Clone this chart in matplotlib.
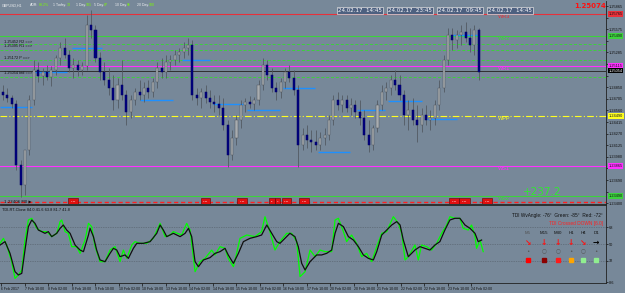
import matplotlib
matplotlib.use("Agg")
import matplotlib.pyplot as plt
from matplotlib.patches import Rectangle
import numpy as np

# ---------------- data ----------------
# 3-hour candles of GBPUSD (H1 chart, condensed), hour index from first label
opens = [1.2479,1.2475,1.2472,1.2464,1.2388,1.2363,1.2407,1.2469,1.2507,1.2499,1.2504,1.2498,1.2507,1.2522,1.2534,1.2525,1.2509,1.2513,1.2507,1.2512,
         1.2563,1.2557,1.2522,1.2504,1.2494,1.2484,1.2469,1.2488,1.2475,1.2454,1.2469,1.2479,1.2475,1.2484,1.2479,1.2492,1.2509,1.2504,1.2517,1.2519,
         1.2525,1.2529,1.2534,1.2538,1.2475,1.2472,1.2479,1.2472,1.2467,1.2464,1.2459,1.2438,1.2400,1.2422,1.2444,1.2463,1.2467,1.2464,1.2469,1.2488,
         1.2513,1.2500,1.2484,1.2479,1.2492,1.2504,1.2497,1.2482,1.2413,1.2425,1.2419,1.2417,1.2413,1.2422,1.2425,1.2444,1.2469,1.2463,1.2469,1.2459,
         1.2463,1.2454,1.2447,1.2425,1.2413,1.2434,1.2463,1.2479,1.2484,1.2494,1.2488,1.2475,1.2450,1.2457,1.2444,1.2438,1.2450,1.2444,1.2447,1.2463,
         1.2484,1.2519,1.2550,1.2544,1.2550,1.2554,1.2547,1.2538,1.2557]
highs = [1.2488,1.2484,1.2475,1.2469,1.2394,1.2382,1.2475,1.2519,1.2517,1.2509,1.2513,1.2512,1.2525,1.2542,1.2547,1.2532,1.2522,1.2519,1.2517,1.2575,
         1.2582,1.2563,1.2529,1.2517,1.2509,1.2500,1.2497,1.2519,1.2482,1.2475,1.2484,1.2494,1.2492,1.2494,1.2497,1.2517,1.2522,1.2525,1.2525,1.2532,
         1.2534,1.2542,1.2547,1.2544,1.2484,1.2484,1.2488,1.2482,1.2475,1.2475,1.2472,1.2444,1.2432,1.2450,1.2469,1.2472,1.2474,1.2473,1.2494,1.2522,
         1.2519,1.2509,1.2492,1.2497,1.2509,1.2513,1.2507,1.2488,1.2434,1.2438,1.2432,1.2432,1.2429,1.2434,1.2450,1.2475,1.2479,1.2475,1.2475,1.2472,
         1.2469,1.2469,1.2457,1.2444,1.2438,1.2469,1.2488,1.2492,1.2500,1.2507,1.2500,1.2482,1.2469,1.2472,1.2463,1.2459,1.2463,1.2457,1.2469,1.2494,
         1.2525,1.2559,1.2559,1.2557,1.2563,1.2567,1.2559,1.2563,1.2559]
lows = [1.2469,1.2467,1.2459,1.2382,1.2348,1.2350,1.2400,1.2463,1.2492,1.2488,1.2494,1.2487,1.2500,1.2513,1.2522,1.2504,1.2497,1.2499,1.2500,1.2507,
        1.2547,1.2517,1.2494,1.2488,1.2475,1.2457,1.2459,1.2469,1.2438,1.2447,1.2463,1.2469,1.2467,1.2472,1.2473,1.2484,1.2497,1.2497,1.2507,1.2513,
        1.2517,1.2522,1.2525,1.2469,1.2463,1.2459,1.2465,1.2459,1.2454,1.2450,1.2432,1.2385,1.2394,1.2413,1.2434,1.2454,1.2459,1.2457,1.2463,1.2482,
        1.2494,1.2479,1.2469,1.2472,1.2484,1.2492,1.2475,1.2385,1.2407,1.2409,1.2404,1.2407,1.2407,1.2413,1.2419,1.2438,1.2457,1.2454,1.2454,1.2450,
        1.2447,1.2438,1.2419,1.2404,1.2407,1.2429,1.2457,1.2469,1.2475,1.2482,1.2469,1.2438,1.2432,1.2438,1.2417,1.2429,1.2438,1.2432,1.2438,1.2457,
        1.2479,1.2513,1.2532,1.2534,1.2538,1.2542,1.2529,1.2525,1.2494]
closes = [1.2475,1.2472,1.2464,1.2388,1.2363,1.2407,1.2469,1.2507,1.2499,1.2504,1.2498,1.2507,1.2522,1.2534,1.2525,1.2509,1.2513,1.2507,1.2512,1.2563,
          1.2557,1.2522,1.2504,1.2494,1.2484,1.2469,1.2488,1.2475,1.2454,1.2469,1.2479,1.2475,1.2484,1.2479,1.2492,1.2509,1.2504,1.2517,1.2519,1.2525,
          1.2529,1.2534,1.2538,1.2475,1.2472,1.2479,1.2472,1.2467,1.2464,1.2459,1.2438,1.2400,1.2422,1.2444,1.2463,1.2467,1.2464,1.2469,1.2488,1.2513,
          1.2500,1.2484,1.2479,1.2492,1.2504,1.2497,1.2482,1.2413,1.2425,1.2419,1.2417,1.2413,1.2422,1.2425,1.2444,1.2469,1.2463,1.2469,1.2459,1.2463,
          1.2454,1.2447,1.2425,1.2413,1.2434,1.2463,1.2479,1.2484,1.2494,1.2488,1.2475,1.2450,1.2457,1.2444,1.2438,1.2450,1.2444,1.2447,1.2463,1.2484,
          1.2519,1.2550,1.2544,1.2550,1.2554,1.2547,1.2538,1.2557,1.2504]
candle_hours = np.arange(len(closes)) * 3 + 1

# pivot levels
level_names = ["WR3", "WR2", "WR1", "WPP", "WS1", "WS2"]
level_prices = [1.25765, 1.25490, 1.25115, 1.24490, 1.23865, 1.23490]
level_colors = ["#e8303a", "#3cd23c", "#ff30ff", "#ffff20", "#ff30ff", "#3cd23c"]
mid_levels = [1.25390, 1.25315, 1.25190, 1.24978]
current_price = 1.25054
low_dash_level = 1.23415

# daily markers (blue segments): start hour, end hour, price
seg_start = [-1, 22.8, 48, 94.3, 122.9, 144, 167.2, 191.7, 215.5, 242, 263.2, 289.7, 307.4]
seg_end   = [20.8, 44.6, 68.4, 116.8, 142, 164.4, 189.6, 213.5, 237.3, 261.1, 286.3, 310.1, 323.8]
seg_price = [1.24603, 1.2504, 1.2534, 1.2469, 1.2519, 1.2464, 1.24565, 1.2484, 1.2404, 1.24565, 1.24678, 1.24453, 1.25503]

# session boxes at the bottom of the price panel: start hour, end hour
box_start = [45.6, 135.5, 160.5, 182.2, 186.3, 190.8, 202.6, 305.0, 311.8, 327.5]
box_end   = [51.8, 142.3, 167.0, 186.0, 189.8, 196.8, 209.5, 311.2, 318.8, 333.7]
box_texts = ["16:00", "10:00", "14:00", "09", "10", "13:00", "16:00", "10:00", "13:00", "16:00"]

# TDI lines
black_x = [-1.0, 2.4, 5.8, 9.2, 11.5, 13.8, 16.0, 18.3, 20.6, 22.8, 25.1, 27.4, 29.6, 31.9, 34.2, 37.6, 39.9, 42.1, 44.4, 46.7,
           50.1, 53.5, 55.8, 59.2, 60.3, 62.6, 64.8, 67.1, 70.5, 73.9, 76.2, 78.5, 80.7, 84.1, 86.4, 89.8, 92.1, 96.6, 101.2, 105.7,
           108.0, 110.2, 112.5, 117.0, 121.6, 125.0, 127.3, 129.5, 131.8, 134.1, 137.5, 142.0,
           145.4, 148.8, 152.2, 154.4, 157.9, 161.3, 164.7, 169.2, 173.7, 177.1, 180.6, 184.0, 187.4, 189.6, 193.0, 196.4, 199.8, 202.1,
           204.4, 206.7, 210.1, 214.6, 218.0, 221.4, 224.8, 227.1, 229.4, 232.8, 236.2, 239.6, 243.0, 246.4, 249.8, 253.2, 255.5, 258.9,
           262.3, 265.7, 269.1, 271.4, 273.6, 277.0,
           281.5, 284.9, 288.3, 291.7, 295.1, 298.5, 301.9, 305.3, 308.7, 312.1, 315.6, 319.0, 322.4, 324.6, 326.9]
black_v = [48.9, 52.5, 40.1, 20.7, 17.2, 18.9, 43.6, 68.4, 75.4, 71.9, 64.8, 63.1, 61.3, 63.1, 57.8, 61.3, 66.6, 70.1, 64.8, 61.3,
           48.9, 43.6, 41.9, 59.5, 66.6, 57.8, 43.6, 33.1, 31.3, 40.1, 45.4, 43.6, 36.6, 38.4, 34.8, 45.4, 50.7, 50.7, 52.5, 61.3,
           70.1, 64.8, 57.8, 61.3, 57.8, 61.3, 66.6, 57.8, 31.3, 26.0, 33.1, 35.6,
           40.1, 41.9, 45.4, 38.4, 29.5, 40.1, 52.5, 56.0, 57.8, 59.5, 70.1, 61.3, 52.5, 50.7, 56.0, 61.3, 57.8, 47.2,
           29.5, 22.5, 31.3, 38.4, 38.4, 40.1, 43.6, 61.3, 71.9, 68.4, 57.8, 54.2, 47.2, 38.4, 34.8, 33.1, 41.9, 59.5,
           64.8, 70.1, 73.7, 70.1, 54.2, 36.6,
           43.6, 47.2, 45.4, 43.6, 48.9, 52.5, 64.8, 75.4, 77.2, 77.2, 70.1, 66.6, 61.3, 52.5, 54.2]
green_x = [-1.0, 1.3, 3.5, 6.9, 9.2, 11.5, 13.8, 16.0, 18.3, 20.6, 24.0, 27.4, 30.8, 34.2, 37.6, 39.9, 41.0, 43.3, 45.5, 47.8,
           51.2, 53.5, 56.9, 59.2, 61.4, 63.7, 67.1, 70.5, 73.9, 77.3, 80.7, 83.0, 85.3, 88.7, 90.9, 94.3, 98.9, 103.4, 108.0, 111.4,
           114.8, 117.0, 122.7, 126.1, 128.4, 131.8, 135.2,
           138.6, 143.1, 145.4, 148.8, 152.2, 154.4, 157.9, 160.1, 162.4, 167.0, 172.6, 177.1, 179.4, 182.8, 186.2, 189.6, 194.2, 197.6,
           201.0, 203.3, 206.7, 210.1, 213.5, 216.9, 220.3, 224.8, 227.1, 229.4, 232.8, 235.0, 238.4, 241.8, 245.2, 248.6, 252.1, 255.5,
           258.9, 262.3, 266.8, 270.2, 272.5, 274.8, 277.0,
           281.5, 283.8, 286.0, 289.5, 292.9, 296.3, 299.7, 303.1, 305.3, 308.7, 312.1, 314.4, 317.8, 320.1, 322.4, 323.5, 325.8, 328.0]
green_v = [50.7, 56.0, 48.9, 31.3, 13.6, 17.2, 22.5, 54.2, 75.4, 77.2, 66.6, 63.1, 63.1, 57.8, 61.3, 73.7, 75.4, 63.1, 61.3, 47.2,
           47.2, 40.1, 54.2, 71.9, 68.4, 47.2, 31.3, 31.3, 43.6, 47.2, 31.3, 43.6, 34.8, 48.9, 52.5, 50.7, 50.7, 56.0, 71.9, 57.8,
           59.5, 63.1, 59.5, 71.9, 64.8, 20.7, 31.3,
           34.8, 43.6, 38.4, 47.2, 45.4, 34.8, 26.0, 40.1, 56.0, 59.5, 57.8, 63.1, 78.9, 63.1, 43.6, 52.5, 61.3, 61.3,
           52.5, 15.4, 20.7, 43.6, 36.6, 43.6, 41.9, 41.9, 75.4, 77.2, 63.1, 52.5, 59.5, 50.7, 36.6, 40.1, 31.3, 47.2,
           61.3, 63.1, 78.9, 71.9, 61.3, 33.1, 36.6,
           48.9, 33.1, 48.9, 47.2, 43.6, 50.7, 61.3, 70.1, 78.9, 77.2, 77.2, 66.6, 64.8, 70.1, 57.8, 45.4, 54.2, 41.9]
tdi_levels = [68, 50, 32]

date_labels = ["6 Feb 2017", "7 Feb 10:00", "8 Feb 02:00", "8 Feb 18:00", "9 Feb 10:00", "10 Feb 02:00",
               "10 Feb 18:00", "13 Feb 10:00", "14 Feb 02:00", "14 Feb 18:00", "15 Feb 10:00", "16 Feb 02:00",
               "16 Feb 18:00", "17 Feb 10:00", "20 Feb 02:00", "20 Feb 18:00", "21 Feb 10:00", "22 Feb 02:00",
               "22 Feb 18:00", "23 Feb 10:00", "24 Feb 02:00"]
price_ticks = [1.23400, 1.23545, 1.23690, 1.23835, 1.23980, 1.24125, 1.24270, 1.24415, 1.24560, 1.24705,
               1.24850, 1.24995, 1.25140, 1.25285, 1.25430, 1.25575, 1.25720, 1.25865]

info_labels = ["ADR:", "1 Today:", "1 Day:", "5 Day:", "10 Day:", "20 Day:"]
info_values = ["88.2%", "73", "101", "87", "96", "100"]

tf_names = ["M5", "M15", "M30", "H1", "H4", "D1"]
tf_arrows = ["\u2198", "\u2193", "\u2193", "\u2193", "\u2198", "\u2192"]
tf_arrow_colors = ["#ff1010", "#ff1010", "#ff1010", "#ff1010", "#ff1010", "#000000"]
tf_square_colors = ["#ff0000", "#8b0000", "#ff1a1a", "#ffa500", "#90ee90", "#90ee90"]

# ---------------- drawing ----------------
SMALL = ["Liberation Sans", "DejaVu Sans"]
BG = "#778899"
fig = plt.figure(figsize=(6.25, 2.93), dpi=100, facecolor=BG)
ax = fig.add_axes([0, 89 / 293, 606 / 625, 203 / 293], facecolor=BG)
ax2 = fig.add_axes([0, 10 / 293, 606 / 625, 78 / 293], facecolor=BG)
XL = (-1.02, 411.6)
ax.set_xlim(*XL)
ax.set_ylim(1.2339, 1.259275)

def px_frac(x):
    return x / 606.0

# levels
for p, col in zip(level_prices, level_colors):
    if col == "#ffff20":
        ax.axhline(p, color=col, lw=0.8, ls=(0, (6, 2, 1, 2)))
    else:
        ax.axhline(p, color=col, lw=0.8)
for p in mid_levels:
    ax.axhline(p, color="#3cd23c", lw=0.7, ls=(0, (3, 2)))
ax.axhline(current_price, color="#303030", lw=0.7)
ax.axhline(low_dash_level, color="#ff2020", lw=1.0, ls=(0, (3, 2)))

# blue daily segments
for s, e, p in zip(seg_start, seg_end, seg_price):
    ax.hlines(p, s, e, color="#1e90ff", lw=1.0)

# candles
o = np.array(opens); c = np.array(closes); h = np.array(highs); l = np.array(lows)
ax.vlines(candle_hours, l, h, color="#4f565e", lw=0.55, zorder=3)
bull = c >= o
body_low = np.minimum(o, c)
body_h = np.maximum(np.abs(c - o), 0.00004)
ax.bar(candle_hours[bull], body_h[bull], bottom=body_low[bull], width=1.4,
       color="#a8acb0", edgecolor="#50565c", lw=0.35, zorder=4)
ax.bar(candle_hours[~bull], body_h[~bull], bottom=body_low[~bull], width=1.4,
       color="#000080", edgecolor="#000060", lw=0.35, zorder=4)

# level labels
for name, p, col in zip(level_names, level_prices, level_colors):
    ax.text(338, p, name, color=col, fontsize=4, va="top", ha="left", family=SMALL)
ax.text(368, 1.2354, "+237.2", color="#30e830", fontsize=7.5, va="center", ha="center")

# session boxes
for s, e, t in zip(box_start, box_end, box_texts):
    ax.add_patch(Rectangle((s, 1.23385), e - s, 0.00075, fc="#e01010", ec="#600000", lw=0.4, zorder=6))
    ax.text((s + e) / 2, 1.23422, t, color="white", fontsize=1.5, ha="center", va="center", family=SMALL, zorder=7)

# top-left info bar
ax.text(px_frac(2), 0.988, "GBPUSD,H1", transform=ax.transAxes, fontsize=2.6, va="top",
        color="#eef0f2", family=SMALL)
info_lab_x = [30, 53, 76, 94, 115, 137]
info_val_x = [39, 67, 86, 104, 127, 149]
for lab, val, lx, vx in zip(info_labels, info_values, info_lab_x, info_val_x):
    ax.text(px_frac(lx), 0.988, lab, transform=ax.transAxes, fontsize=2.5, va="top", color="#eef0f2", family=SMALL)
    ax.text(px_frac(vx), 0.988, val, transform=ax.transAxes, fontsize=2.5, va="top", color="#7cfc00", family=SMALL)

# left level info text
left_rows = [("1.25452 R2 ==>", 1.2541), ("1.25395 R1 ==>", 1.2536), ("1.25172 P ==>", 1.2522), ("1.25054 bid ==>", 1.2503)]
for t, p in left_rows:
    ax.text(2, p, t, fontsize=2.8, color="#101010", va="center", ha="left", family=SMALL)
ax.text(2, 1.2342, "1.23406 M0 \u25b6", fontsize=2.8, color="#101010", va="center", ha="left",
        family=["DejaVu Sans"])

# time boxes
time_texts = ["24.02.17  14:45", "24.02.17  23:45", "24.02.17  09:45", "24.02.17  14:45"]
for i, t in enumerate(time_texts):
    ax.text(px_frac(335 + 50 * i + 25), 0.953, t, transform=ax.transAxes, fontsize=4.0,
            color="white", ha="center", va="center",
            bbox=dict(boxstyle="square,pad=0.15", fc="#4d6080", ec="#e0e0e0", lw=0.5))

ax.text(1.0, 0.988, "1.25074", transform=ax.transAxes, fontsize=5, color="#ff1010",
        ha="right", va="top", fontweight="bold", zorder=7)

# right axis price boxes
box_prices = level_prices + [current_price]
box_cols = level_colors + ["#000000"]
for p, col in zip(box_prices, box_cols):
    tc = "white" if col == "#000000" else "#101010"
    ax.annotate(f"{p:.5f}", xy=(1.0, p), xycoords=("axes fraction", "data"), xytext=(2, 0),
                textcoords="offset points", fontsize=2.8, color=tc, va="center", ha="left", family=SMALL,
                bbox=dict(boxstyle="square,pad=0.15", fc=col, ec="none"), annotation_clip=False, zorder=8)

# right axis ticks (labels hidden where a price box covers them)
ax.yaxis.tick_right()
ax.set_yticks(price_ticks)
shown = [f"{t:.5f}" if min(abs(t - b) for b in box_prices) > 0.0006 else "" for t in price_ticks]
ax.set_yticklabels(shown, family=SMALL)
ax.tick_params(axis="y", labelsize=2.8, length=1.5, width=0.5, pad=0.6, colors="#101010")
ax.set_xticks([])
for sp in ax.spines.values():
    sp.set_color("#202020"); sp.set_linewidth(0.6)
ax.spines["left"].set_visible(False)
ax.spines["top"].set_visible(False)

# ---------------- TDI panel ----------------
ax2.set_xlim(*XL)
ax2.set_ylim(8.7, 91.3)
for lv in tdi_levels:
    ax2.axhline(lv, color="#505a64", lw=0.5, ls=(0, (1, 1.5)))
ax2.plot(green_x, green_v, color="#00ff00", lw=0.9)
ax2.plot(black_x, black_v, color="#101010", lw=0.9)
ax2.text(0.004, 0.96, "TDI-RT-Clone 84.0 41.6 63.8 81.7 41.8", transform=ax2.transAxes,
         fontsize=2.8, color="#101010", va="top", family=SMALL)
ax2.text(0.995, 0.86, "TDI WvAngle: -76\u00b0  Green: -85\u00b0  Red: -72\u00b0", transform=ax2.transAxes,
         fontsize=3.4, color="#101010", va="center", ha="right", family=SMALL)
ax2.text(0.995, 0.76, "TDI Crossed DOWN [6.0]", transform=ax2.transAxes,
         fontsize=3.4, color="#ff2020", va="center", ha="right", family=SMALL)
tf_x = [528, 544, 558, 571, 583, 596]
for xx, nm, ar, ac, sc in zip(tf_x, tf_names, tf_arrows, tf_arrow_colors, tf_square_colors):
    fx = px_frac(xx)
    ax2.text(fx, 0.64, nm, transform=ax2.transAxes, fontsize=3.2, color="#505050" if nm == "M5" else "#101010",
             ha="center", va="center", family=SMALL)
    ax2.text(fx, 0.52, ar, transform=ax2.transAxes, fontsize=5.5, color=ac, ha="center", va="center",
             fontweight="bold")
    ax2.text(fx, 0.41, "\u25cb" if nm in ("M15", "M30", "H4") else "\u2022", transform=ax2.transAxes,
             fontsize=4, color="#555555", ha="center", va="center")
    ax2.plot([fx], [0.30], marker="s", ms=3, color=sc, transform=ax2.transAxes, clip_on=False)

ax2.yaxis.tick_right()
ax2.set_yticks([68, 50, 32, 9.5])
ax2.set_yticklabels(["68", "50", "32", "8.6"], family=SMALL)
ax2.tick_params(axis="y", labelsize=2.8, length=1.5, width=0.5, pad=0.6, colors="#101010")
tick_pos = np.arange(len(date_labels)) * 16
ax2.set_xticks(tick_pos)
ax2.set_xticklabels(date_labels, family=SMALL)
ax2.tick_params(axis="x", labelsize=2.5, length=2, width=0.5, pad=0.8, colors="#101010")
for lbl in ax2.get_xticklabels():
    lbl.set_horizontalalignment("left")
for sp in ax2.spines.values():
    sp.set_color("#202020"); sp.set_linewidth(0.6)
ax2.spines["left"].set_visible(False)

fig.savefig("out.png", dpi=100, facecolor=BG)
